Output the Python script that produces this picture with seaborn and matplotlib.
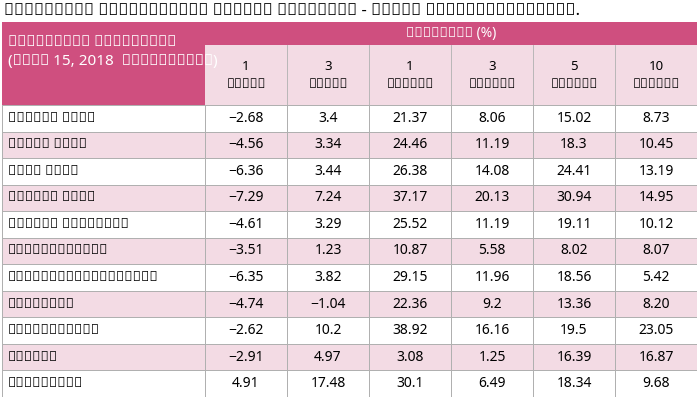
import matplotlib
matplotlib.use("Agg")
import matplotlib.pyplot as plt
from matplotlib.colors import ListedColormap
from matplotlib.patches import Rectangle
import seaborn as sns
import numpy as np

plt.rcParams["font.family"] = ["Noto Sans", "DejaVu Sans"]

title = "ஈக்விட்டி ஃபண்டுகளின் சராசரி வருமானம் - பத்து ஆண்டுகளுக்கானது."
name_header = "ஈக்விட்டி ஃபண்டுகள்\n(பிப் 15, 2018  நிலவரப்படி)"
group_header = "வருமானம் (%)"
periods = ["1\nமாதம்", "3\nமாதம்", "1\nவருடம்", "3\nவருடம்", "5\nவருடம்", "10\nவருடம்"]
funds = ["லார்ஜ் கேப்", "மல்டி கேப்", "மிட் கேப்", "ஸ்மால் கேப்", "டாக்ஸ் பிளானிங்",
         "இன்டர்நேஷனல்", "இன்ஃப்ராஸ்ட்ரக்சர்", "பேங்கிங்", "எஃப்எம்சிஜி", "பார்மா", "டெக்னாலஜி"]
m1 = ["−2.68", "−4.56", "−6.36", "−7.29", "−4.61", "−3.51", "−6.35", "−4.74", "−2.62", "−2.91", "4.91"]
m3 = ["3.4", "3.34", "3.44", "7.24", "3.29", "1.23", "3.82", "−1.04", "10.2", "4.97", "17.48"]
y1 = ["21.37", "24.46", "26.38", "37.17", "25.52", "10.87", "29.15", "22.36", "38.92", "3.08", "30.1"]
y3 = ["8.06", "11.19", "14.08", "20.13", "11.19", "5.58", "11.96", "9.2", "16.16", "1.25", "6.49"]
y5 = ["15.02", "18.3", "24.41", "30.94", "19.11", "8.02", "18.56", "13.36", "19.5", "16.39", "18.34"]
y10 = ["8.73", "10.45", "13.19", "14.95", "10.12", "8.07", "5.42", "8.20", "23.05", "16.87", "9.68"]

DARK = "#cf4f7f"
LIGHT = "#f3dbe4"
cmap = ListedColormap(["white", LIGHT])
n = len(funds)
stripes = np.array([[i % 2] for i in range(n)])
W, H = 700, 400
fig = plt.figure(figsize=(7, 4), dpi=100)
fig.patch.set_facecolor("white")

def ax_px(x0, y0, x1, y1):
    return fig.add_axes([x0 / W, 1 - y1 / H, (x1 - x0) / W, (y1 - y0) / H])

vals = np.array([m1, m3, y1, y3, y5, y10]).T
axd = ax_px(205, 105, 697, 397)
sns.heatmap(np.repeat(stripes, 6, axis=1), ax=axd, cmap=cmap, cbar=False, annot=vals, fmt="",
            annot_kws={"color": "black", "fontsize": 10}, linewidths=0.6, linecolor="#b0b0b0",
            xticklabels=False, yticklabels=False)
axn = ax_px(2, 105, 205, 397)
sns.heatmap(stripes, ax=axn, cmap=cmap, cbar=False, annot=False, linewidths=0.6,
            linecolor="#b0b0b0", xticklabels=False, yticklabels=False)
for i, f in enumerate(funds):
    axn.text(0.03, i + 0.5, f, ha="left", va="center", fontsize=10)

fig.text(4 / W, 1 - 11 / H, title, ha="left", va="center", fontsize=12, fontweight="bold")
fig.patches.append(Rectangle((2 / W, 1 - 105 / H), 203 / W, 83 / H, transform=fig.transFigure,
                             facecolor=DARK, edgecolor="none"))
fig.patches.append(Rectangle((205 / W, 1 - 45 / H), 492 / W, 23 / H, transform=fig.transFigure,
                             facecolor=DARK, edgecolor="none"))
fig.patches.append(Rectangle((205 / W, 1 - 105 / H), 492 / W, 60 / H, transform=fig.transFigure,
                             facecolor=LIGHT, edgecolor="none"))
fig.text(8 / W, 1 - 52 / H, name_header, ha="left", va="center", color="white", fontsize=11,
         linespacing=1.3)
fig.text(451 / W, 1 - 34 / H, group_header, ha="center", va="center", color="white", fontsize=10)
cw = 492 / 6
for j, p in enumerate(periods):
    cx = 205 + cw * (j + 0.5)
    fig.text(cx / W, 1 - 75 / H, p, ha="center", va="center", fontsize=9.5, linespacing=1.5)
    if j > 0:
        fig.lines.append(plt.Line2D([(205 + cw * j) / W] * 2, [1 - 105 / H, 1 - 45 / H],
                                    transform=fig.transFigure, color="#b0b0b0", lw=0.6))
fig.savefig("out.png", dpi=100)
